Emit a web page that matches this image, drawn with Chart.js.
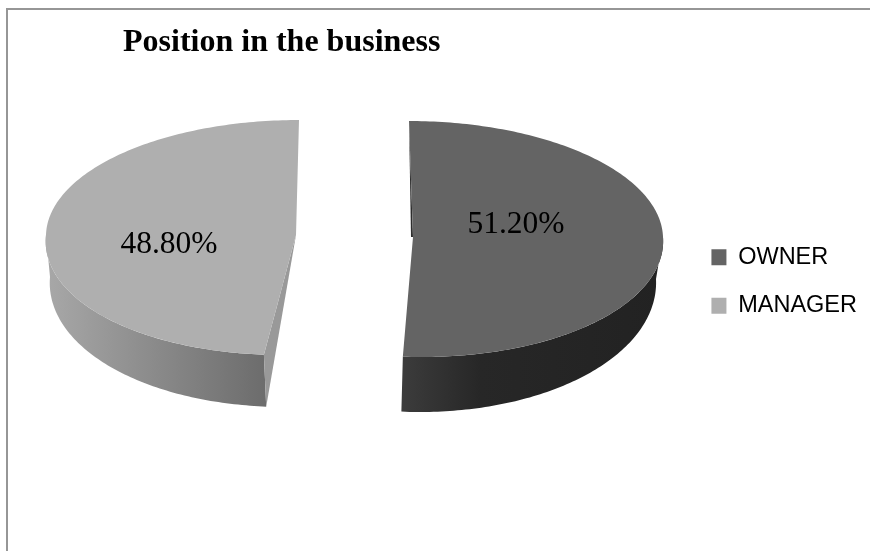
<!DOCTYPE html>
<html>
<head>
<meta charset="utf-8">
<script src="https://cdn.jsdelivr.net/npm/chart.js@4"></script>
<style>
  html, body { margin: 0; padding: 0; background: #fff; overflow: hidden; }
  #frame { position: absolute; left: 6px; top: 8px; right: -4px; bottom: -4px; border: 2px solid #969696; }
  canvas { position: absolute; left: 0; top: 0; }
</style>
</head>
<body>
<div id="frame"></div>
<canvas id="position-chart" width="870" height="551"></canvas>
<script>
const categories = ["OWNER", "MANAGER"];
const shares = [51.2, 48.8];
const faceColors = ["#646464", "#afafaf"];

// tilted-disc shape of each slice, one entry per category
const sliceShapes = [
  { cx: 413, cy: 237, rx: 250, ryTop: 116, ryBottom: 120, skewTop: 4, skewBottom: 8.7,
    depth: 42, depthFront: 13, shrink: 7, drift: -2,
    wall: [[0, "#3c3c3c"], [0.3, "#272727"], [1, "#222222"]] },
  { cx: 296, cy: 235, rx: 250, ryTop: 115, ryBottom: 120, skewTop: -3, skewBottom: -13.3,
    depth: 42, depthFront: 10, shrink: 4, drift: 2,
    wall: [[0, "#a8a8a8"], [1, "#6c6c6c"]] },
];
const labelSpots = [[516, 225], [169, 244.5]];

const rimPoint = (s, angle) => {
  const dx = Math.cos(angle);
  const dy = Math.sin(angle);
  return {
    x: s.cx + s.rx * dx + dy * (dy < 0 ? s.skewTop : s.skewBottom),
    y: s.cy + dy * (dy < 0 ? s.ryTop : s.ryBottom),
  };
};

const floorPoint = (s, angle) => {
  const p = rimPoint(s, angle);
  const front = Math.max(Math.sin(angle), 0);
  return {
    x: p.x - s.shrink * Math.cos(angle) + s.drift * front,
    y: p.y + s.depth + s.depthFront * front,
  };
};

const anglesBetween = (from, to) => {
  const steps = Math.max(2, Math.ceil(Math.abs(to - from) * 60));
  const list = [];
  for (let i = 0; i <= steps; i++) list.push(from + ((to - from) * i) / steps);
  return list;
};

const tracePoints = (ctx, points) => {
  ctx.beginPath();
  points.forEach((p, i) => (i ? ctx.lineTo(p.x, p.y) : ctx.moveTo(p.x, p.y)));
  ctx.closePath();
};

// the pie elements only supply angles and colours, the disc is projected here
const tiltedPie = {
  id: "tiltedPie",
  beforeDatasetDraw(chart, args) {
    const { ctx } = chart;
    args.meta.data.forEach((arc, i) => {
      const s = sliceShapes[i];
      const start = arc.startAngle;
      const end = arc.endAngle;
      const apex = { x: s.cx, y: s.cy };

      // outer wall, only the part facing the viewer
      const from = Math.max(start, 0);
      const to = Math.min(end, Math.PI);
      const sweep = anglesBetween(from, to);
      const rim = sweep.map((a) => rimPoint(s, a));
      const floor = sweep.map((a) => floorPoint(s, a));
      const xs = rim.concat(floor).map((p) => p.x);
      const grad = ctx.createLinearGradient(Math.min(...xs), 0, Math.max(...xs), 0);
      s.wall.forEach(([stop, color]) => grad.addColorStop(stop, color));
      tracePoints(ctx, rim.concat(floor.reverse()));
      ctx.fillStyle = grad;
      ctx.fill();

      // cut faces beside the gap
      if (i === 1) {
        tracePoints(ctx, [apex, rimPoint(s, start), floorPoint(s, start)]);
        ctx.fillStyle = "#999999";
        ctx.fill();
      } else {
        const top = rimPoint(s, start);
        tracePoints(ctx, [top, apex, { x: apex.x - 2, y: apex.y }]);
        ctx.fillStyle = "#2e2e2e";
        ctx.fill();
      }

      // top face
      tracePoints(ctx, [apex].concat(anglesBetween(start, end).map((a) => rimPoint(s, a))));
      ctx.fillStyle = arc.options.backgroundColor;
      ctx.fill();
    });

    ctx.save();
    ctx.font = "31.5px 'Liberation Serif'";
    ctx.fillStyle = "#000";
    ctx.textAlign = "center";
    ctx.textBaseline = "middle";
    shares.forEach((v, i) => ctx.fillText(v.toFixed(2) + "%", labelSpots[i][0], labelSpots[i][1]));
    ctx.restore();
    return false;
  },
};

new Chart(document.getElementById("position-chart"), {
  type: "pie",
  data: {
    labels: categories,
    datasets: [{ data: shares, backgroundColor: faceColors, borderWidth: 0 }],
  },
  plugins: [tiltedPie],
  options: {
    responsive: false,
    animation: false,
    layout: { padding: { left: 123, top: 24, right: 3, bottom: 12 } },
    plugins: {
      title: {
        display: true,
        text: "Position in the business",
        align: "start",
        color: "#000",
        font: { family: "'Liberation Serif'", size: 32, weight: "bold" },
        padding: 0,
      },
      legend: {
        position: "right",
        labels: {
          boxWidth: 15,
          boxHeight: 16,
          padding: 25,
          color: "#000",
          font: { family: "'Liberation Sans'", size: 23.5 },
        },
      },
      tooltip: { enabled: false },
    },
  },
});
</script>
</body>
</html>
